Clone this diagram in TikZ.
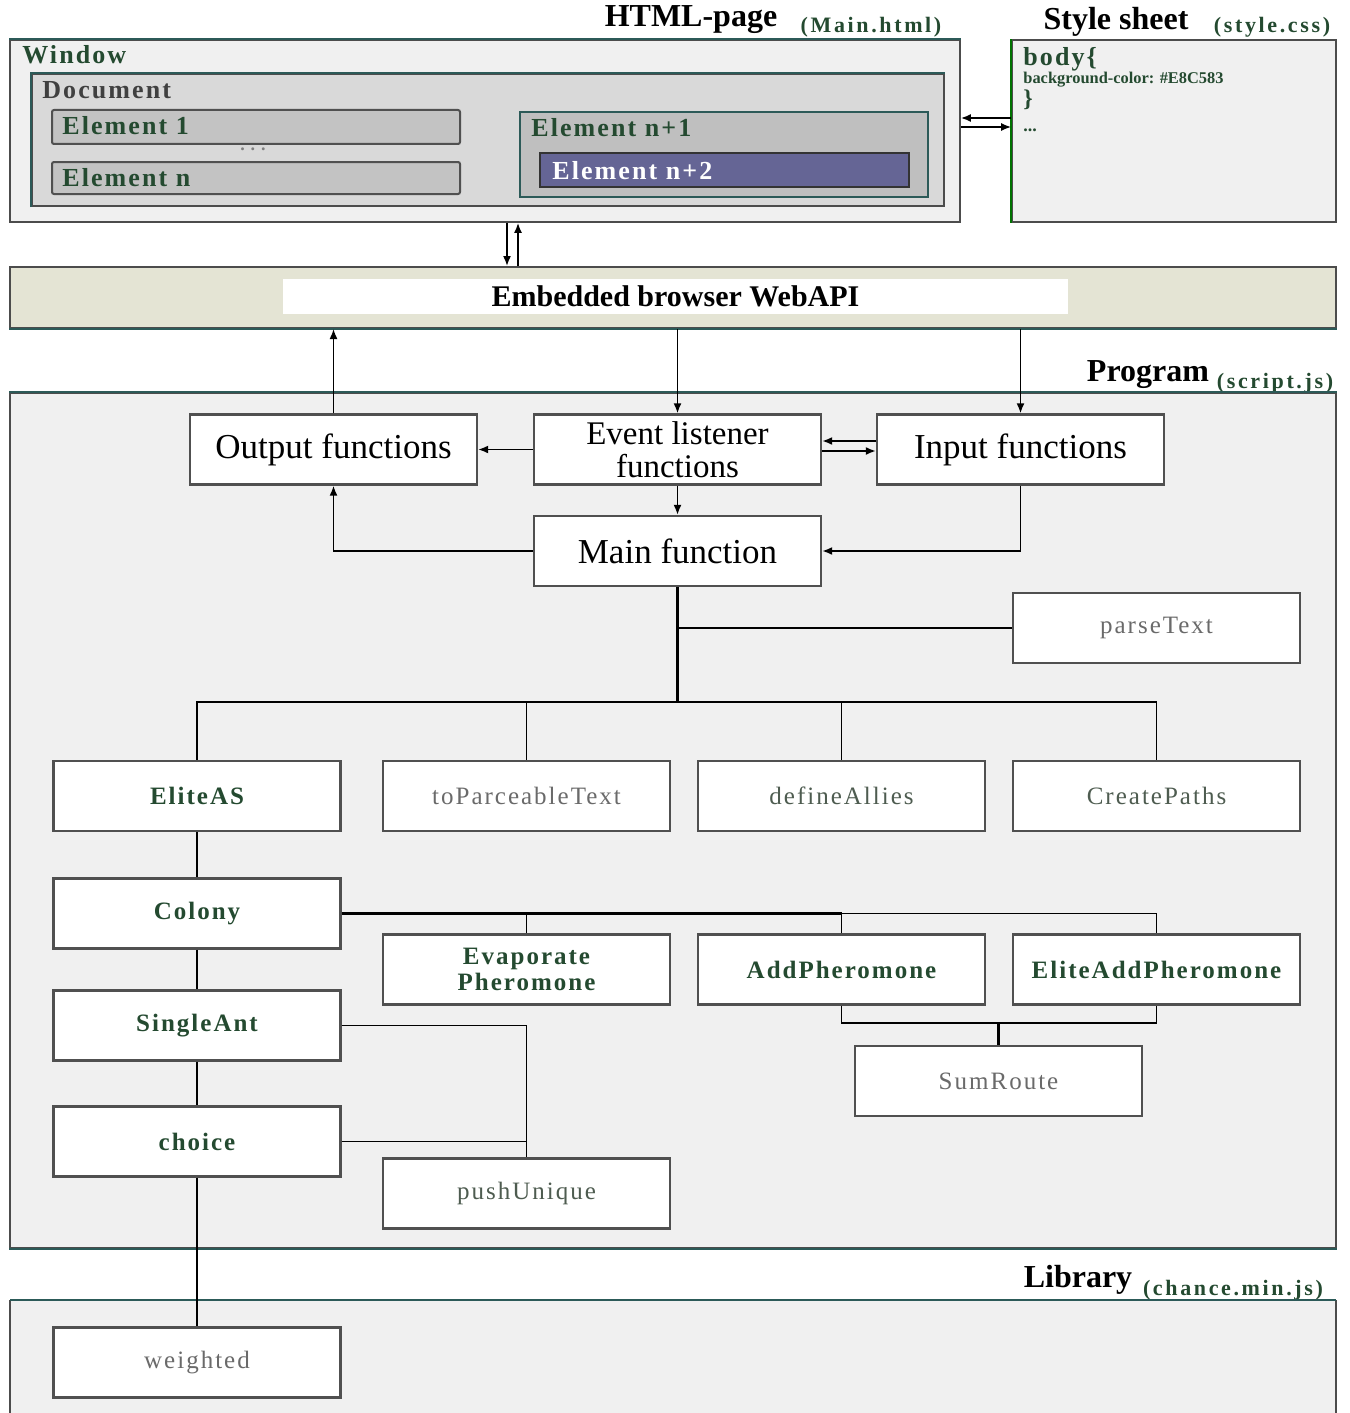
\documentclass[tikz,border=0pt]{standalone}
\usepackage{fontspec}
\setmainfont{Liberation Serif}
\newfontfamily\lsp[LetterSpace=8]{Liberation Serif}
\newfontfamily\lspw[LetterSpace=12]{Liberation Serif}
\usetikzlibrary{arrows.meta,calc}
\definecolor{dgreen}{HTML}{244A30}
\definecolor{tealb}{HTML}{2C5A58}
\definecolor{bord}{HTML}{505050}
\definecolor{panel}{HTML}{F0F0F0}
\definecolor{lgray}{HTML}{6A6A6A}
\definecolor{ggray}{HTML}{4E5C50}
\definecolor{purp}{HTML}{656595}
\definecolor{beige}{HTML}{E4E4D4}
\tikzset{
  fbox/.style={draw=bord, line width=1.2pt, fill=white, minimum width=143.5pt,
    minimum height=35pt, inner sep=0pt, align=center},
  bigtxt/.style={font=\fontsize{17.5}{15}\selectfont},
  gtxt/.style={font=\lsp\fontsize{12.5}{13}\selectfont\bfseries, text=dgreen},
  ltxt/.style={font=\lsp\fontsize{12.5}{13}\selectfont, text=lgray},
  mtxt/.style={font=\lsp\fontsize{12.5}{13}\selectfont, text=ggray},
  arr/.style={-{Latex[length=5pt,width=4pt]}, line width=0.8pt},
  conn/.style={line width=0.9pt},
  thickconn/.style={line width=1.6pt},
  panelbox/.style={draw=gray!60!black, fill=panel, line width=0.9pt, inner sep=0pt},
  title/.style={font=\fontsize{16}{16}\selectfont\bfseries, anchor=base},
  sub/.style={font=\lspw\fontsize{11}{11}\selectfont\bfseries, text=dgreen, anchor=base},
  elabel/.style={font=\lsp\fontsize{13}{13}\selectfont\bfseries, text=dgreen, anchor=base west, inner sep=0pt},
  elem/.style={draw=bord, fill=gray!47, line width=1pt, rounded corners=1pt, inner sep=0pt}
}
\begin{document}
\begin{tikzpicture}[x=0.5pt,y=-0.5pt]
\fill[white] (0,0) rectangle (1349,1413);
\useasboundingbox (0,0) rectangle (1349,1413);

% ---------- HTML page ----------
\node[title] (thtml) at (691,27) {HTML-page};
\node[sub] (tmain) at (871,33) {(Main.html)};
\node[panelbox, minimum width=475pt, minimum height=91pt] (window) at (485,131) {};
\draw[tealb, line width=1.2pt] (window.north west) -- (window.north east);
\node[elabel] (lwin) at (22,64) {Window};
\node[draw=gray!60!black, fill=gray!30, line width=1pt, inner sep=0pt,
      minimum width=456pt, minimum height=66pt] (doc) at (488,140) {};
\draw[tealb, line width=1pt] (doc.south west) -- (doc.north west) -- (doc.north east);
\node[elabel, text=black!75] (ldoc) at (42,98) {Document};
\node[elem, minimum width=204pt, minimum height=17pt] (el1) at (256,127) {};
\node[elabel] (lel1) at (62,134) {Element 1};
\node[font=\fontsize{9}{9}\selectfont\bfseries, text=gray] (dots) at (253,149) {. . .};
\node[elem, minimum width=204pt, minimum height=16pt] (eln) at (256,178) {};
\node[elabel] (leln) at (62,186) {Element n};
\node[draw=tealb, fill=gray!50, line width=1pt, inner sep=0pt,
      minimum width=204pt, minimum height=42.5pt] (eln1) at (724,154.5) {};
\node[elabel] (leln1) at (531,137) {Element n+1};
\node[draw=black!80, fill=purp, line width=1pt, inner sep=0pt,
      minimum width=184.5pt, minimum height=17pt] (eln2) at (724.5,170) {};
\node[elabel, text=white] (leln2) at (552,179) {Element n+2};

% ---------- Style sheet ----------
\node[title] (tstyle) at (1116,30) {Style sheet};
\node[sub] (tcss) at (1272,33) {(style.css)};
\node[panelbox, minimum width=162pt, minimum height=91pt] (style) at (1174,131) {};
\draw[green!45!black, line width=1pt] (style.south west) -- (style.north west);
\node[elabel] (lbody) at (1023,66) {body\{};
\node[font=\fontsize{8.2}{8}\selectfont\bfseries, text=dgreen, anchor=base west, inner sep=0pt] (lbg) at (1023,84) {background-color: \#E8C583};
\node[elabel, font=\fontsize{12}{12}\selectfont\bfseries] (lbr) at (1023,106) {\}};
\node[elabel, font=\fontsize{9}{9}\selectfont\bfseries] (ldd) at (1023,132) {...};

\draw[arr] ([yshift=6.5pt]style.west) -- ([yshift=6.5pt]window.east);
\draw[arr] ([yshift=2pt]window.east) -- ([yshift=2pt]style.west);

% ---------- Web API ----------
\node[draw=gray!60!black, fill=beige, line width=1pt, inner sep=0pt,
      minimum width=663pt, minimum height=30.5pt] (webapi) at (673,297.5) {};
\draw[tealb, line width=1.2pt] (webapi.south west) -- (webapi.south east);
\node[fill=white, inner sep=0pt, minimum width=392.5pt, minimum height=17.5pt,
      font=\fontsize{15}{15}\selectfont\bfseries] (lweb) at (675.5,296.5) {Embedded browser WebAPI};

\draw[arr] ([xshift=11pt]window.south) -- ([xshift=11pt]window.south |- webapi.north);
\draw[arr] ([xshift=16.5pt]window.south |- webapi.north) -- ([xshift=16.5pt]window.south);

% ---------- Program ----------
\node[title] (tprog) at (1148,381) {Program};
\node[sub] (tjs) at (1275,388) {(script.js)};
\node[panelbox, minimum width=663pt, minimum height=427.5pt] (prog) at (673,820.5) {};
\draw[tealb, line width=1.2pt] (prog.north west) -- (prog.north east);
\draw[tealb, line width=1.2pt] (prog.south west) -- (prog.south east);

\node[fbox, bigtxt] (out) at (333.5,449.5) {Output functions};
\node[fbox, font=\fontsize{16.5}{16.5}\selectfont] (event) at (677.5,449.5) {Event listener\\functions};
\node[fbox, bigtxt] (input) at (1020.5,449.5) {Input functions};
\node[fbox, bigtxt] (main) at (677.5,551) {Main function};
\node[fbox, ltxt] (parse) at (1156.5,628) {parseText};
\node[fbox, gtxt] (elite) at (197,796) {EliteAS};
\node[fbox, ltxt] (topar) at (526.5,796) {toParceableText};
\node[fbox, mtxt] (define) at (841.5,796) {defineAllies};
\node[fbox, mtxt] (create) at (1156.5,796) {CreatePaths};
\node[fbox, gtxt] (colony) at (197,913.5) {Colony};
\node[fbox, gtxt] (evap) at (526.5,969.5) {Evaporate\\Pheromone};
\node[fbox, gtxt] (add) at (841.5,969.5) {AddPheromone};
\node[fbox, gtxt] (eadd) at (1156.5,969.5) {EliteAddPheromone};
\node[fbox, ltxt] (sum) at (998.5,1081) {SumRoute};
\node[fbox, gtxt] (single) at (197,1025.5) {SingleAnt};
\node[fbox, gtxt] (choice) at (197,1141.5) {choice};
\node[fbox, mtxt] (push) at (526.5,1193.5) {pushUnique};

% arrows with WebAPI
\draw[arr] (out.north) -- (out.north |- webapi.south);
\draw[arr] (webapi.south -| event.north) -- (event.north);
\draw[arr] (webapi.south -| input.north) -- (input.north);
% inner arrows
\draw[arr] (event.west) -- (out.east);
\draw[arr] ([yshift=4.25pt]input.west) -- ([yshift=4.25pt]event.east);
\draw[arr] ([yshift=-0.75pt]event.east) -- ([yshift=-0.75pt]input.west);
\draw[arr] (event.south) -- (main.north);
\draw[arr] (main.west) -| (out.south);
\draw[arr] (input.south) |- (main.east);

% tree
\coordinate (bus) at (677.5,702);
\draw[thickconn] (main.south) -- (bus);
\draw[conn] (main.south |- parse.west) -- (parse.west);
\draw[conn] (elite.north) |- (create.north |- bus) -- (create.north);
\draw[conn] (topar.north) -- (topar.north |- bus);
\draw[conn] (define.north) -- (define.north |- bus);

\draw[conn] (elite.south) -- (colony.north);
\draw[conn] (colony.east) -| (eadd.north);
\draw[thickconn] (colony.east) -- (colony.east -| add.north);
\draw[conn] (evap.north) -- (evap.north |- colony.east);
\draw[conn] (add.north) -- (add.north |- colony.east);

\coordinate (sj) at (998.5,1023);
\draw[conn] (add.south) |- (sj) -| (eadd.south);
\draw[thickconn] (sj) -- (sum.north);

\draw[conn] (colony.south) -- (single.north);
\draw[conn] (single.east) -| (push.north);
\draw[conn] (single.south) -- (choice.north);
\draw[conn] (choice.east) -- (choice.east -| push.north);

% ---------- Library ----------
\node[title] (tlib) at (1078,1287) {Library};
\node[sub] (tchance) at (1233,1295) {(chance.min.js)};
\fill[panel] (10,1300) rectangle (1336,1413);
\draw[gray!60!black, line width=0.9pt] (10,1413) -- (10,1300);
\draw[gray!60!black, line width=0.9pt] (1336,1300) -- (1336,1413);
\draw[tealb, line width=1.2pt] (10,1300) -- (1336,1300);
\node[fbox, ltxt] (weighted) at (197,1362.5) {weighted};
\draw[conn] (choice.south) -- (weighted.north);
\end{tikzpicture}
\end{document}
